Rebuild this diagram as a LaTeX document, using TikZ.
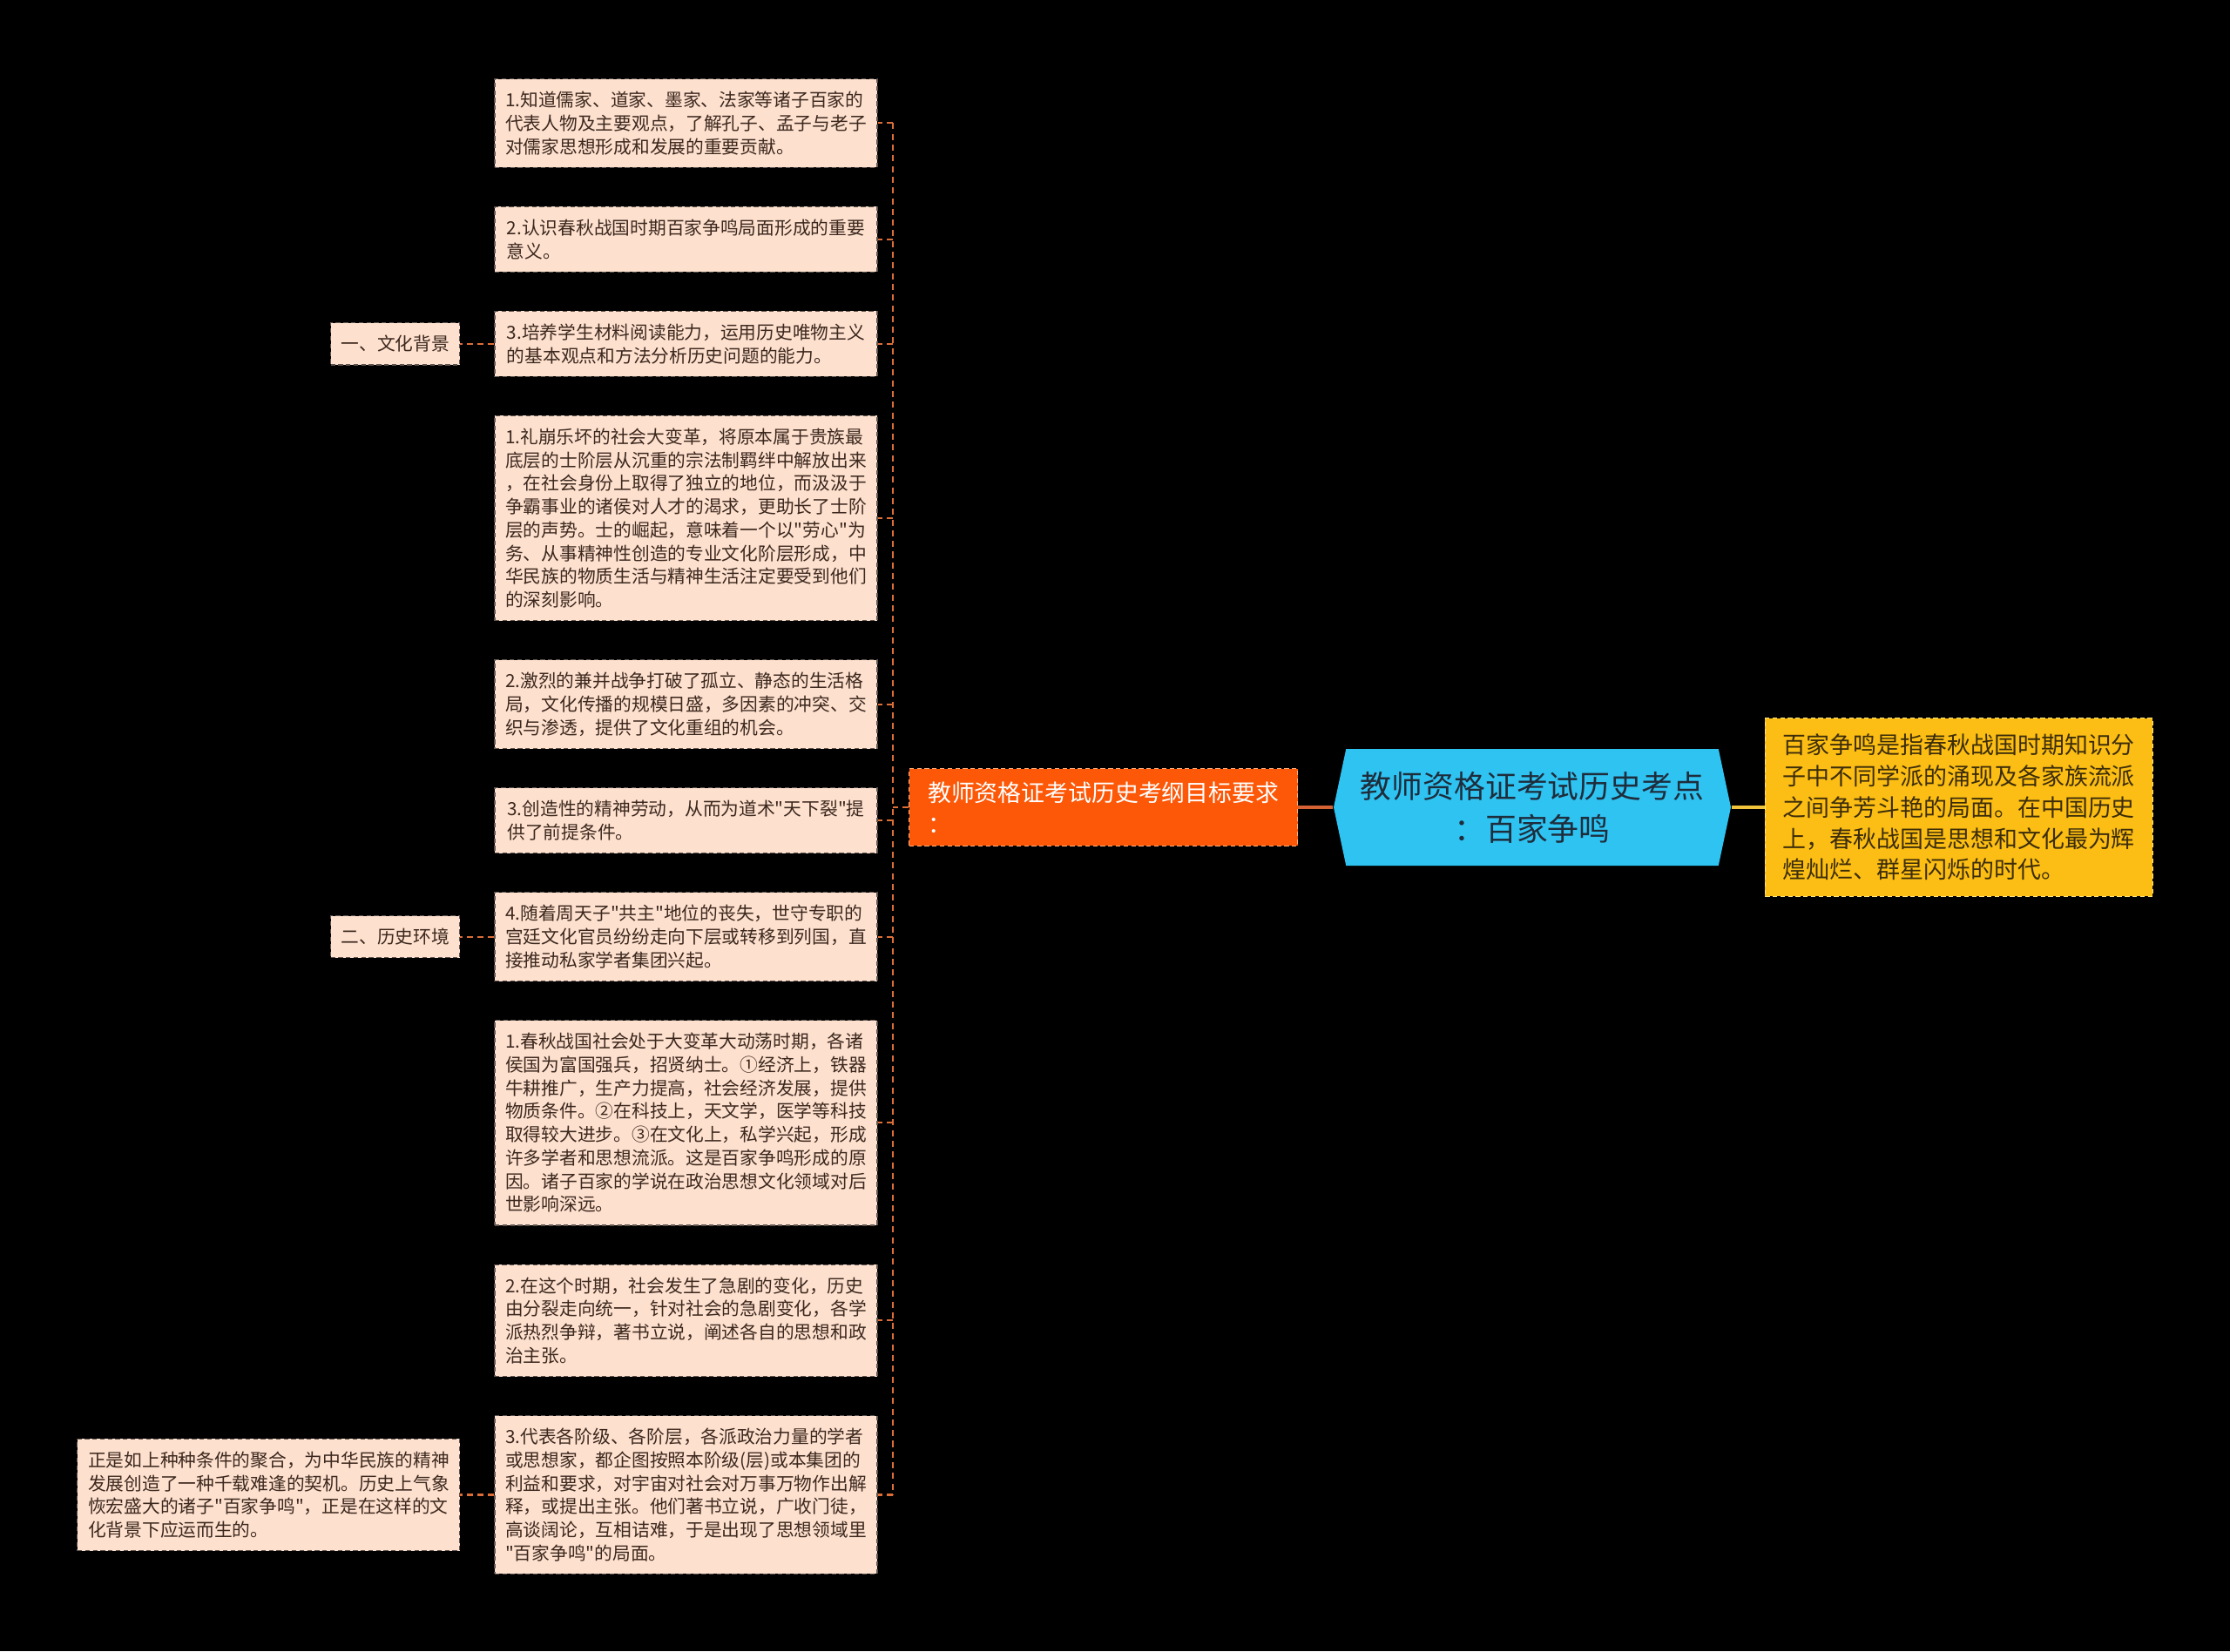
\documentclass[tikz,border=0pt]{standalone}
\usepackage{fontspec}
\setmainfont{Noto Sans CJK SC}[Ligatures=TeXOff]
\usepackage{tikz}
\usetikzlibrary{positioning,shapes.symbols}
\definecolor{peach}{RGB}{253,224,206}
\definecolor{peachline}{RGB}{95,85,80}
\definecolor{ink}{RGB}{60,40,30}
\definecolor{branch}{RGB}{252,88,8}
\definecolor{branchline}{RGB}{255,175,125}
\definecolor{sky}{RGB}{47,195,242}
\definecolor{skyink}{RGB}{30,45,60}
\definecolor{gold}{RGB}{252,190,20}
\definecolor{goldline}{RGB}{255,228,125}
\definecolor{goldink}{RGB}{60,45,10}
\definecolor{wire}{RGB}{222,110,55}
\definecolor{wirered}{RGB}{214,98,52}
\definecolor{wiregold}{RGB}{242,196,60}

\begin{document}
\begin{tikzpicture}[
  node distance=0.44cm,
  every node/.style={font=\fontsize{5.9}{7.6}\selectfont, align=left,
    inner xsep=0.12cm, inner ysep=0.145cm},
  item/.style={draw=peachline, dashed, dash pattern=on 1.5pt off 1pt, line width=0.3pt,
    fill=peach, text=ink, minimum width=4.39cm},
  tag/.style={item, minimum width=1.47cm, minimum height=0.47cm},
  hub/.style={draw=branchline, dashed, dash pattern=on 1.5pt off 1pt, line width=0.3pt,
    fill=branch, text=white, font=\fontsize{7.65}{10.2}\selectfont,
    inner xsep=0.2cm, inner ysep=0.15cm, minimum width=4.46cm},
  root/.style={shape=signal, signal to=west and east, signal pointer angle=156,
    fill=sky, text=skyink, font=\fontsize{10.2}{13.9}\selectfont, align=center,
    minimum width=4.56cm, minimum height=1.34cm},
  note/.style={draw=goldline, dashed, dash pattern=on 1.5pt off 1pt, line width=0.3pt,
    fill=gold, text=goldink, font=\fontsize{7.67}{10.2}\selectfont,
    inner xsep=0.15cm, inner ysep=0.18cm, minimum width=4.45cm},
  link/.style={draw=wire, line width=0.6pt, dash pattern=on 2pt off 1.5pt}
]
\fill[black] (0,0) rectangle (25.6,-18.96);
\useasboundingbox (0,0) rectangle (25.6,-18.96);

\node[root] (root) at (17.59,-9.27) {教师资格证考试历史考点\\：百家争鸣};
\node[hub, left=0.40cm of root] (goal) {教师资格证考试历史考纲目标要求\\：};
\node[note, right=0.38cm of root] (def) {百家争鸣是指春秋战国时期知识分\\子中不同学派的涌现及各家族流派\\之间争芳斗艳的局面。在中国历史\\上，春秋战国是思想和文化最为辉\\煌灿烂、群星闪烁的时代。};

\node[item, anchor=north] (a1) at (7.875,-0.90) {1.知道儒家、道家、墨家、法家等诸子百家的\\代表人物及主要观点，了解孔子、孟子与老子\\对儒家思想形成和发展的重要贡献。};
\node[item, below=of a1] (a2) {2.认识春秋战国时期百家争鸣局面形成的重要\\意义。};
\node[item, below=of a2] (a3) {3.培养学生材料阅读能力，运用历史唯物主义\\的基本观点和方法分析历史问题的能力。};
\node[item, below=of a3] (b1) {1.礼崩乐坏的社会大变革，将原本属于贵族最\\底层的士阶层从沉重的宗法制羁绊中解放出来\\，在社会身份上取得了独立的地位，而汲汲于\\争霸事业的诸侯对人才的渴求，更助长了士阶\\层的声势。士的崛起，意味着一个以"劳心"为\\务、从事精神性创造的专业文化阶层形成，中\\华民族的物质生活与精神生活注定要受到他们\\的深刻影响。};
\node[item, below=of b1] (b2) {2.激烈的兼并战争打破了孤立、静态的生活格\\局，文化传播的规模日盛，多因素的冲突、交\\织与渗透，提供了文化重组的机会。};
\node[item, below=of b2] (b3) {3.创造性的精神劳动，从而为道术"天下裂"提\\供了前提条件。};
\node[item, below=of b3] (b4) {4.随着周天子"共主"地位的丧失，世守专职的\\宫廷文化官员纷纷走向下层或转移到列国，直\\接推动私家学者集团兴起。};
\node[item, below=of b4] (c1) {1.春秋战国社会处于大变革大动荡时期，各诸\\侯国为富国强兵，招贤纳士。①经济上，铁器\\牛耕推广，生产力提高，社会经济发展，提供\\物质条件。②在科技上，天文学，医学等科技\\取得较大进步。③在文化上，私学兴起，形成\\许多学者和思想流派。这是百家争鸣形成的原\\因。诸子百家的学说在政治思想文化领域对后\\世影响深远。};
\node[item, below=of c1] (c2) {2.在这个时期，社会发生了急剧的变化，历史\\由分裂走向统一，针对社会的急剧变化，各学\\派热烈争辩，著书立说，阐述各自的思想和政\\治主张。};
\node[item, below=of c2] (c3) {3.代表各阶级、各阶层，各派政治力量的学者\\或思想家，都企图按照本阶级(层)或本集团的\\利益和要求，对宇宙对社会对万事万物作出解\\释，或提出主张。他们著书立说，广收门徒，\\高谈阔论，互相诘难，于是出现了思想领域里\\"百家争鸣"的局面。};

\node[tag, left=0.39cm of a3] (bg1) {一、文化背景};
\node[tag, left=0.39cm of b4] (bg2) {二、历史环境};
\node[item, left=0.39cm of c3] (sum) {正是如上种种条件的聚合，为中华民族的精神\\发展创造了一种千载难逢的契机。历史上气象\\恢宏盛大的诸子"百家争鸣"，正是在这样的文\\化背景下应运而生的。};

\draw[draw=wirered, line width=1pt] (goal.east) -- (root.west);
\draw[draw=wiregold, line width=1pt] (root.east) -- (def.west);

\coordinate[left=0.18cm of goal.west] (trunk);
\draw[link] (goal.west) -- (trunk);
\draw[link] (trunk |- a1.east) -- (trunk |- c3.east);
\foreach \n in {a1,a2,a3,b1,b2,b3,b4,c1,c2,c3}
  \draw[link] (trunk |- \n.east) -- (\n.east);

\draw[link] (a3.west) -- (bg1.east);
\draw[link] (b4.west) -- (bg2.east);
\draw[link] (c3.west) -- (sum.east);
\end{tikzpicture}
\end{document}
